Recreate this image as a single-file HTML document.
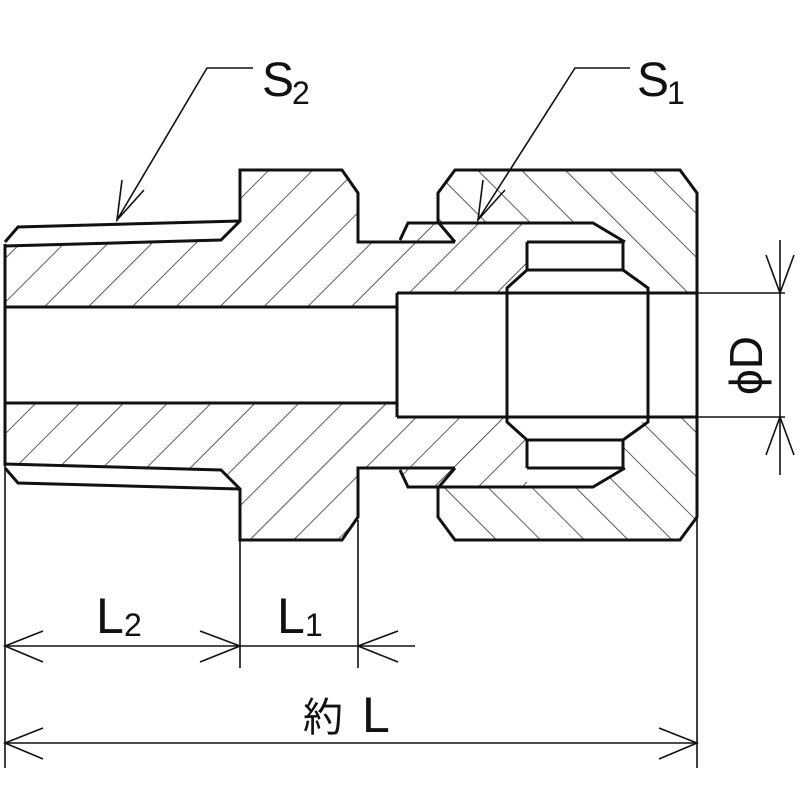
<!DOCTYPE html>
<html><head><meta charset="utf-8"><style>
html,body{margin:0;padding:0;background:#fff;}
svg{display:block;}
text{font-family:"Liberation Sans","Noto Sans CJK JP",sans-serif;fill:#111;}
</style></head><body>
<svg width="800" height="800" viewBox="0 0 800 800" xmlns="http://www.w3.org/2000/svg">
<defs>
<pattern id="hA" width="31" height="31" patternUnits="userSpaceOnUse" patternTransform="rotate(45)">
<line x1="0" y1="0" x2="0" y2="31" stroke="#333" stroke-width="1.6"/>
</pattern>
<pattern id="hB" width="31" height="31" patternUnits="userSpaceOnUse" patternTransform="rotate(-45)">
<line x1="0" y1="0" x2="0" y2="31" stroke="#333" stroke-width="1.6"/>
</pattern>
<g id="half">
  <g fill="none" stroke="#111" stroke-width="3" stroke-linejoin="miter">
    <polyline points="5,242 18,227 240,221"/>
    <polyline points="5,246 221,240 240,221 240,170 342,170 358,193 358,242 455,242"/>
    <polyline points="400,240 408,223 593,223 625,242"/>
    <polyline points="438,222 438,193 455,170 680,170 697,193 697,355"/>
    <polyline points="438,222 455,242"/>
    <polyline points="527,242 623,242 623,270 527,270 527,242"/>
    <polyline points="507,355 507,288 527,270"/>
    <polyline points="648,355 648,288 623,270"/>
    <polyline points="5,307 397,307"/>
    <line x1="397" y1="293" x2="397" y2="355"/>
    <line x1="397" y1="293" x2="697" y2="293"/>
    <line x1="5" y1="244" x2="5" y2="355"/>
  </g>
  <line x1="697" y1="293" x2="785" y2="293" stroke="#111" stroke-width="1.5"/>
</g>
</defs>
<polygon points="5,246 221,240 240,221 240,170 342,170 358,193 358,242 400,242 408,223 527,223 527,270 507,293 397,293 397,307 5,307" fill="url(#hA)"/>
<polygon points="5,464 221,470 240,489 240,540 342,540 358,517 358,468 400,468 408,487 527,487 527,440 507,417 397,417 397,403 5,403" fill="url(#hA)"/>
<polygon points="438,193 455,170 680,170 697,193 697,293 648,293 623,270 623,242 593,223 438,223" fill="url(#hB)"/>
<polygon points="438,517 455,540 680,540 697,517 697,417 648,417 623,440 623,468 593,487 438,487" fill="url(#hB)"/>
<use href="#half"/>
<use href="#half" transform="translate(0,710) scale(1,-1)"/>

<g stroke="#111" stroke-width="1.6" fill="none">
  <polyline points="117,220 207,68 253,68"/>
  <polyline points="122,180 117,220 144,190"/>
  <polyline points="478,220 575,68 630,68"/>
  <polyline points="483,180 478,220 505,190"/>
  <line x1="5" y1="465" x2="5" y2="768"/>
  <line x1="697" y1="515" x2="697" y2="768"/>
  <line x1="240" y1="540" x2="240" y2="668"/>
  <line x1="358" y1="520" x2="358" y2="668"/>
  <line x1="5" y1="646" x2="415" y2="646"/>
  <polyline points="43,631 5,646 43,662"/>
  <polyline points="200,631 240,646 200,662"/>
  <polyline points="398,631 358,646 398,662"/>
  <line x1="5" y1="743" x2="697" y2="743"/>
  <polyline points="43,728 5,743 43,759"/>
  <polyline points="659,728 697,743 659,759"/>
  <line x1="780" y1="240" x2="780" y2="475"/>
  <polyline points="766,255 780,293 794,255"/>
  <polyline points="766,455 780,417 794,455"/>
</g>

<text x="262" y="96" font-size="48">S</text>
<text x="292" y="104" font-size="32">2</text>
<text x="637" y="96" font-size="48">S</text>
<text x="667" y="104" font-size="32">1</text>
<text x="96" y="633" font-size="50">L</text>
<text x="124" y="636" font-size="32">2</text>
<text x="277" y="633" font-size="50">L</text>
<text x="305" y="636" font-size="32">1</text>
<text x="303" y="731" font-size="40">約</text>
<text x="362" y="732" font-size="50">L</text>
<text transform="translate(762,395) rotate(-90)" font-size="46">ϕD</text>
</svg>
</body></html>
